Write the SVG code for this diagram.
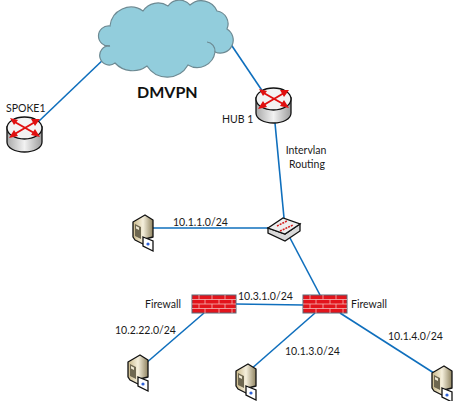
<svg xmlns="http://www.w3.org/2000/svg" width="455" height="401" viewBox="0 0 455 401">
<style>
text{font-family:Lato,"Liberation Sans",sans-serif;font-size:10.500px;fill:#1a1a1a}
.l{fill:none;stroke:#0f6fbd;stroke-width:1.6}
.o{stroke:#111;stroke-width:1.3}
.a{fill:none;stroke:#e01010;stroke-width:2}
.h{fill:#e01010}
.b{fill:none;stroke:#f4b9b9;stroke-width:.8}
</style>
<defs>
<linearGradient id="rg" x1="0" x2="1" y1="0" y2="0"><stop offset="0" stop-color="#a9a9a9"/><stop offset=".5" stop-color="#f2f2f2"/><stop offset="1" stop-color="#9d9d9d"/></linearGradient>
<linearGradient id="sg" x1="0" x2="1" y1="0" y2="0"><stop offset="0" stop-color="#c9b889"/><stop offset=".5" stop-color="#f5efdc"/><stop offset="1" stop-color="#8f8360"/></linearGradient>
<g id="router">
<path class="o" fill="url(#rg)" d="M0 10V25C0 31 8 35 17.500 35S35 31 35 25V10Z"/>
<ellipse class="o" cx="17.500" cy="11" rx="17.500" ry="11" fill="#f3f3f3"/>
<path class="a" d="M6 4L29 17M6 18L28 5"/>
<path class="h" d="M3 1L11 3L7 8ZM2 21L7 13L11 19ZM33 2L24 2L28 9ZM33 20L24 18L28 12Z"/>
</g>
<g id="server">
<path class="o" fill="url(#sg)" stroke-linejoin="round" d="M0 7L12 0L20 5V22L12 24V30L2 25L0 22Z"/>
<path fill="#6e6750" d="M2 9L8 12V24L2 21Z"/>
<path fill="#efe8d2" d="M3 11L6 12.500V15L3 13.500Z"/>
<path class="o" fill="#fff" d="M10 22L20 26V36L10 31Z"/>
<circle cx="15" cy="29" r="1.600" fill="#2f62d8"/>
</g>
<g id="firewall">
<rect x="0" y="0" width="44" height="18" fill="#e2141c" stroke="#5a6a78" stroke-width="1"/>
<path class="b" d="M0 4.500H44M0 9H44M0 13.500H44M7 0V4.500M20 0V4.500M33 0V4.500M13 4.500V9M27 4.500V9M40 4.500V9M7 9V13.500M20 9V13.500M33 9V13.500M13 13.500V18M27 13.500V18M40 13.500V18"/>
</g>
</defs>
<g id="connectors">
<path class="l" d="M38 122L106 57"/>
<path class="l" d="M228 40L263 92"/>
<path class="l" d="M275 123L284 218"/>
<path class="l" d="M153 228H268"/>
<path class="l" d="M290 238L320 295"/>
<path class="l" d="M236 304L303 305"/>
<path class="l" d="M204 313L138 370"/>
<path class="l" d="M315 313L250 370"/>
<path class="l" d="M340 313L437 375"/>
</g>
<g id="cloud">
<path fill="#92cddc" stroke="#6d8a93" stroke-width="1.200" d="M110 26A21 21 0 0 1 143 11A18 18 0 0 1 168 6A14 14 0 0 1 190 5A17 17 0 0 1 217 11A13 13 0 0 1 227 29A13 13 0 0 1 215 52A18 18 0 0 1 188 65A24 24 0 0 1 147 66A24 24 0 0 1 115 63A9.500 9.500 0 1 1 110 46A10.100 10.100 0 1 1 110 26Z"/>
<path fill="none" stroke="#6d8a93" stroke-width="1.200" d="M207 42A9 9 0 0 1 215 52M110 46Q106 45 104 46"/>
</g>
<g id="label-dmvpn"><text x="137" y="98" style="font-size:16px;font-weight:700;fill:#111">DMVPN</text></g>
<g id="spoke1"><use href="#router" x="7" y="117"/><text x="6" y="112">SPOKE1</text></g>
<g id="hub1"><use href="#router" x="256" y="88"/><text x="222" y="123">HUB 1</text></g>
<g id="label-intervlan"><text x="306" y="154" text-anchor="middle">Intervlan</text><text x="307" y="168" text-anchor="middle">Routing</text></g>
<g id="switch">
<path class="o" fill="#d9d9d9" d="M268 228V233L285 241L300 231V224L285 234Z"/>
<path class="o" fill="#eeeeee" d="M268 228L283 218L300 224L285 234Z"/>
<path d="M277 226L287 221M280 231L293 225" stroke="#d42020" stroke-width="1.600" stroke-dasharray="2 1" fill="none"/>
</g>
<g id="server-a"><use href="#server" x="133" y="215"/></g>
<text x="173" y="226">10.1.1.0/24</text>
<g id="firewall-left"><use href="#firewall" x="192" y="295"/><text x="145" y="308">Firewall</text></g>
<g id="firewall-right"><use href="#firewall" x="303" y="295"/><text x="351" y="308">Firewall</text></g>
<text x="238" y="300">10.3.1.0/24</text>
<text x="115" y="334">10.2.22.0/24</text>
<text x="285" y="355">10.1.3.0/24</text>
<text x="388" y="340">10.1.4.0/24</text>
<g id="server-b"><use href="#server" x="128" y="355"/></g>
<g id="server-c"><use href="#server" x="236" y="364"/></g>
<g id="server-d"><use href="#server" x="432" y="366"/></g>
</svg>
